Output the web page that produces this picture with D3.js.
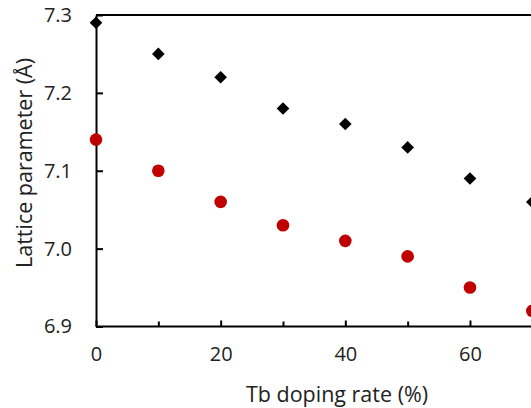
<!DOCTYPE html>
<html><head><meta charset="utf-8">
<script src="https://cdn.jsdelivr.net/npm/d3@7"></script>
<style>body{margin:0;background:#fff}svg{display:block}text{font-family:"Open Sans",sans-serif;fill:#222}</style>
</head><body>
<script>
const dopingRate = [0, 10, 20, 30, 40, 50, 60, 70];
const seriesDiamond = [7.29, 7.25, 7.22, 7.18, 7.16, 7.13, 7.09, 7.06];
const seriesCircle = [7.14, 7.10, 7.06, 7.03, 7.01, 6.99, 6.95, 6.92];
const xTickValues = [0, 20, 40, 60];
const xMinorTicks = [10, 30, 50, 70];
const yTickValues = [6.9, 7.0, 7.1, 7.2, 7.3];

const W = 531, H = 408;
const svg = d3.select("body").append("svg").attr("width", W).attr("height", H);
const x = d3.scaleLinear().domain([0, 100]).range([96, 96 + 623.3]);
const y = d3.scaleLinear().domain([6.9, 7.3]).range([326.5, 15]);

const g = svg.append("g");
g.append("line").attr("x1", x(0)).attr("x2", W).attr("y1", y(7.3)).attr("y2", y(7.3)).attr("stroke", "#000").attr("stroke-width", 2);

const xAxis = d3.axisBottom(x).tickValues(xTickValues).tickSizeInner(-6).tickSizeOuter(0).tickFormat(d3.format("d")).tickPadding(20);
const xa = g.append("g").attr("transform", `translate(0,${y(6.9)})`).call(xAxis);
xa.select(".domain").attr("stroke-width", 2).attr("d", `M${x(0)},0H${W}`);
xa.selectAll(".tick line").attr("stroke-width", 2);
xa.selectAll("text").attr("font-size", 20).attr("fill", "#222");
const xm = g.append("g").attr("transform", `translate(0,${y(6.9)})`).call(d3.axisBottom(x).tickValues(xMinorTicks).tickSizeInner(-5).tickSizeOuter(0).tickFormat(""));
xm.select(".domain").remove();
xm.selectAll(".tick line").attr("stroke-width", 2);

const yAxis = d3.axisLeft(y).tickValues(yTickValues).tickSizeInner(-7).tickSizeOuter(0).tickFormat(d3.format(".1f")).tickPadding(24);
const ya = g.append("g").attr("transform", `translate(${x(0)},0)`).call(yAxis);
ya.select(".domain").attr("stroke-width", 2);
ya.selectAll(".tick line").attr("stroke-width", 2);
ya.selectAll("text").attr("font-size", 20).attr("fill", "#222");

g.selectAll("circle.c").data(dopingRate).enter().append("circle").attr("class", "c")
  .attr("cx", (d) => x(d)).attr("cy", (d, i) => y(seriesCircle[i])).attr("r", 6.3).attr("fill", "#c00000");
const diamond = d3.symbol().type(d3.symbolSquare).size(80);
g.selectAll("path.d").data(dopingRate).enter().append("path").attr("class", "d")
  .attr("d", diamond())
  .attr("transform", (d, i) => `translate(${x(d)},${y(seriesDiamond[i])}) rotate(45)`).attr("fill", "#000");

svg.append("text").attr("x", 337).attr("y", 402).attr("text-anchor", "middle").attr("font-size", 21.5).text("Tb doping rate (%)");
svg.append("text").attr("transform", "translate(32,163) rotate(-90)").attr("text-anchor", "middle").attr("font-size", 21.5).text("Lattice parameter (Å)");
</script>
</body></html>
